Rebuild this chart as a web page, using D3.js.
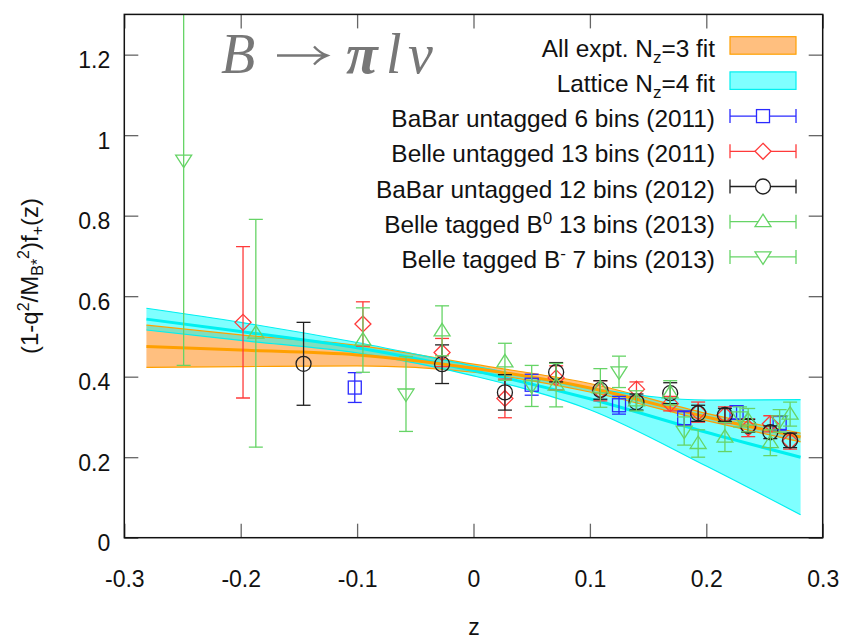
<!DOCTYPE html>
<html><head><meta charset="utf-8">
<script src="https://cdn.jsdelivr.net/npm/d3@7"></script>
<style>
html,body{margin:0;padding:0;background:#fff;}
</style></head>
<body><svg id="c" width="843" height="640" font-family="'Liberation Sans', Arial, Helvetica, sans-serif"></svg>
<script>
// ---- data ----
const xTicks = [-0.3, -0.2, -0.1, 0, 0.1, 0.2, 0.3];
const xTickLabels = ["-0.3", "-0.2", "-0.1", "0", "0.1", "0.2", "0.3"];
const yTicks = [0, 0.2, 0.4, 0.6, 0.8, 1, 1.2];
const yTickLabels = ["0", "0.2", "0.4", "0.6", "0.8", "1", "1.2"];

// fit bands: z grid and lower/central/upper values
const bandZ = [-0.281, -0.2, -0.1, 0, 0.1, 0.2, 0.281];
const exptLow = [0.423, 0.425, 0.427, 0.411, 0.362, 0.291, 0.238];
const exptMid = [0.475, 0.466, 0.454, 0.421, 0.372, 0.300, 0.250];
const exptHigh = [0.528, 0.504, 0.478, 0.431, 0.383, 0.309, 0.260];
const latLow = [0.516, 0.490, 0.459, 0.402, 0.318, 0.178, 0.057];
const latMid = [0.543, 0.512, 0.472, 0.415, 0.345, 0.262, 0.200];
const latHigh = [0.570, 0.535, 0.485, 0.427, 0.372, 0.342, 0.343];

// BaBar untagged 6 bins (2011)
const babar11Z = [-0.102, 0.050, 0.125, 0.181, 0.226, 0.263];
const babar11V = [0.373, 0.380, 0.329, 0.297, 0.311, 0.285];
const babar11E = [0.037, 0.026, 0.022, 0.018, 0.017, 0.018];
// Belle untagged 13 bins (2011)
const belle11Z = [-0.198, -0.095, -0.027, 0.027, 0.071, 0.109, 0.140, 0.169, 0.193, 0.216, 0.236, 0.255, 0.272];
const belle11V = [0.535, 0.531, 0.460, 0.346, 0.397, 0.365, 0.369, 0.333, 0.312, 0.305, 0.273, 0.283, 0.240];
const belle11E = [0.188, 0.055, 0.035, 0.048, 0.030, 0.025, 0.018, 0.018, 0.025, 0.020, 0.022, 0.020, 0.020];
// BaBar untagged 12 bins (2012)
const babar12Z = [-0.146, -0.027, 0.027, 0.071, 0.109, 0.140, 0.169, 0.193, 0.216, 0.236, 0.255, 0.272];
const babar12V = [0.432, 0.431, 0.361, 0.411, 0.367, 0.337, 0.359, 0.309, 0.305, 0.278, 0.262, 0.242];
const babar12E = [0.103, 0.048, 0.044, 0.024, 0.023, 0.020, 0.026, 0.020, 0.016, 0.016, 0.016, 0.018];
// Belle tagged B0 13 bins (2013)
const belleB0Z = [-0.187, -0.095, -0.027, 0.027, 0.071, 0.109, 0.140, 0.169, 0.193, 0.216, 0.236, 0.255, 0.272];
const belleB0V = [0.508, 0.491, 0.514, 0.437, 0.379, 0.372, 0.340, 0.360, 0.234, 0.250, 0.292, 0.236, 0.307];
const belleB0E = [0.283, 0.080, 0.062, 0.046, 0.054, 0.048, 0.025, 0.030, 0.034, 0.036, 0.029, 0.032, 0.030];
// Belle tagged B- 7 bins (2013)
const belleBmZ = [-0.249, -0.058, 0.050, 0.125, 0.181, 0.229, 0.263];
const belleBmV = [0.938, 0.357, 0.377, 0.412, 0.265, 0.300, 0.290];
const belleBmE = [0.510, 0.093, 0.051, 0.039, 0.035, 0.025, 0.028];

// ---- drawing ----
const svg = d3.select("#c");
const L = 124.3, R = 822.7, T = 14.4, B = 537.7;
const x = d3.scaleLinear().domain([-0.3, 0.3]).range([L, R]);
const y = d3.scaleLinear().domain([0, 1.3]).range([B, T]);

svg.append("defs").append("clipPath").attr("id", "clip")
  .append("rect").attr("x", L).attr("y", T).attr("width", R - L).attr("height", B - T);

const plot = svg.append("g").attr("clip-path", "url(#clip)");

function band(lo, hi) {
  return d3.area().curve(d3.curveMonotoneX)
    .x((d, i) => x(bandZ[i])).y0((d, i) => y(lo[i])).y1((d, i) => y(hi[i]))(bandZ);
}
function line(v) {
  return d3.line().curve(d3.curveMonotoneX).x((d, i) => x(bandZ[i])).y((d, i) => y(v[i]))(bandZ);
}
const ORF = "rgba(255,128,0,0.5)", ORL = "#ffa000";
const CYF = "rgba(0,255,255,0.5)", CYL = "#00f0f0";

plot.append("path").attr("d", band(exptLow, exptHigh)).attr("fill", ORF).attr("stroke", "none");
plot.append("path").attr("d", band(latLow, latHigh)).attr("fill", CYF).attr("stroke", "none");
[exptLow, exptHigh].forEach(v => plot.append("path").attr("d", line(v)).attr("fill", "none").attr("stroke", ORL).attr("stroke-width", 1.2));
[latLow, latHigh].forEach(v => plot.append("path").attr("d", line(v)).attr("fill", "none").attr("stroke", CYL).attr("stroke-width", 1.2));
plot.append("path").attr("d", line(latMid)).attr("fill", "none").attr("stroke", CYL).attr("stroke-width", 3);
plot.append("path").attr("d", line(exptMid)).attr("fill", "none").attr("stroke", ORL).attr("stroke-width", 3);

// markers
const markers = {
  square: g => g.append("rect").attr("x", -6.5).attr("y", -6.5).attr("width", 13).attr("height", 13),
  diamond: g => g.append("path").attr("d", "M0,-8L8,0L0,8L-8,0Z"),
  circle: g => g.append("circle").attr("r", 7.5),
  up: g => g.append("path").attr("d", "M0,-7.5L8,5L-8,5Z"),
  down: g => g.append("path").attr("d", "M0,7.5L8,-5L-8,-5Z")
};

const series = [
  {label: "BaBar untagged 6 bins (2011)", z: babar11Z, v: babar11V, e: babar11E, color: "#2a2aff", m: "square"},
  {label: "Belle untagged 13 bins (2011)", z: belle11Z, v: belle11V, e: belle11E, color: "#ff3a3a", m: "diamond"},
  {label: "BaBar untagged 12 bins (2012)", z: babar12Z, v: babar12V, e: babar12E, color: "#202020", m: "circle"},
  {label: "Belle tagged B0 13 bins (2013)", z: belleB0Z, v: belleB0V, e: belleB0E, color: "#66d466", m: "up"},
  {label: "Belle tagged B- 7 bins (2013)", z: belleBmZ, v: belleBmV, e: belleBmE, color: "#66d466", m: "down"}
];

const CAP = 7;
series.forEach(s => {
  const g = plot.append("g").attr("fill", "none").attr("stroke", s.color).attr("stroke-width", 1.3);
  s.z.forEach((zz, i) => {
    const cx = x(zz), lo = y(s.v[i] - s.e[i]), hi = y(s.v[i] + s.e[i]);
    g.append("line").attr("x1", cx).attr("x2", cx).attr("y1", lo).attr("y2", hi);
    g.append("line").attr("x1", cx - CAP).attr("x2", cx + CAP).attr("y1", lo).attr("y2", lo);
    g.append("line").attr("x1", cx - CAP).attr("x2", cx + CAP).attr("y1", hi).attr("y2", hi);
    const mg = g.append("g").attr("transform", `translate(${cx},${y(s.v[i])})`);
    markers[s.m](mg);
  });
});

// axes
const FS = 23;
const axB = svg.append("g").attr("transform", `translate(0,${B})`)
  .call(d3.axisBottom(x).tickValues(xTicks).tickFormat((d, i) => xTickLabels[i]).tickSize(-14).tickPadding(0));
const axT = svg.append("g").attr("transform", `translate(0,${T})`)
  .call(d3.axisTop(x).tickValues(xTicks).tickFormat("").tickSize(-14));
const axL = svg.append("g").attr("transform", `translate(${L},0)`)
  .call(d3.axisLeft(y).tickValues(yTicks).tickFormat((d, i) => yTickLabels[i]).tickSize(-14).tickPadding(14));
const axR = svg.append("g").attr("transform", `translate(${R},0)`)
  .call(d3.axisRight(y).tickValues(yTicks).tickFormat("").tickSize(-14));
[axB, axT, axL, axR].forEach(a => {
  a.select(".domain").remove();
  a.attr("font-family", null);
  a.selectAll(".tick line").attr("stroke", "#666").attr("stroke-width", 1.3);
  a.selectAll("text").attr("font-size", FS).attr("fill", "#111");
});
axB.selectAll("text").attr("y", 49).attr("dy", null);
axL.selectAll("text").attr("dy", "13px");

svg.append("rect").attr("x", L).attr("y", T).attr("width", R - L).attr("height", B - T)
  .attr("fill", "none").attr("stroke", "#111").attr("stroke-width", 1.5);

// axis titles
svg.append("text").attr("x", 474).attr("y", 635).attr("text-anchor", "middle")
  .attr("font-size", FS).attr("fill", "#111").text("z");

const yl = svg.append("text").attr("transform", "translate(38,276) rotate(-90)")
  .attr("text-anchor", "middle").attr("font-size", 24).attr("fill", "#111");
yl.append("tspan").text("(1-q");
yl.append("tspan").attr("font-size", 16).attr("dy", -9).text("2");
yl.append("tspan").attr("dy", 9).text("/M");
yl.append("tspan").attr("font-size", 16).attr("dy", 5).text("B*");
yl.append("tspan").attr("font-size", 16).attr("dy", -14).text("2");
yl.append("tspan").attr("dy", 9).text(")f");
yl.append("tspan").attr("font-size", 16).attr("dy", 5).text("+");
yl.append("tspan").attr("dy", -5).text("(z)");

// title B -> pi l nu
const tg = svg.append("g").attr("fill", "#777");
const SERIF = "'Liberation Serif','Times New Roman',serif";
tg.append("text").attr("x", 221).attr("y", 73).attr("font-family", SERIF).attr("font-size", 56).attr("font-style", "italic").text("B");
// thin TeX-like arrow drawn as a path
tg.append("path").attr("d", "M277,55.5H326M314,46.5Q320,53 327,55.5Q320,58 314,64.5")
  .attr("fill", "none").attr("stroke", "#777").attr("stroke-width", 2.4);
tg.append("text").attr("x", 346).attr("y", 73).attr("font-family", SERIF).attr("font-size", 58).attr("font-style", "italic").attr("font-weight", "bold").text("π");
tg.append("text").attr("x", 386).attr("y", 73).attr("font-family", SERIF).attr("font-size", 56).attr("font-style", "italic").text("l");
tg.append("text").attr("x", 408).attr("y", 73).attr("font-family", SERIF).attr("font-size", 56).attr("font-style", "italic").text("ν");

// legend
const LFS = 24.4;
const LX = 715, SX0 = 730, SX1 = 796, SC = 763;
const leg = svg.append("g").attr("font-size", LFS).attr("fill", "#111");
function rowY(i) { return 56.7 + i * 35.2; }
function legText(i, parts) {
  const t = leg.append("text").attr("x", LX).attr("y", rowY(i)).attr("text-anchor", "end");
  parts.forEach(p => {
    const s = t.append("tspan").text(p[0]);
    if (p[1] === "sub") s.attr("font-size", 17).attr("dy", 6);
    else if (p[1] === "sup") s.attr("font-size", 17).attr("dy", -9);
    else if (p[1] === "back") s.attr("dy", p[2]);
  });
}
legText(0, [["All expt. N"], ["z", "sub"], ["=3 fit", "back", -6]]);
legText(1, [["Lattice N"], ["z", "sub"], ["=4 fit", "back", -6]]);
legText(2, [["BaBar untagged 6 bins (2011)"]]);
legText(3, [["Belle untagged 13 bins (2011)"]]);
legText(4, [["BaBar untagged 12 bins (2012)"]]);
legText(5, [["Belle tagged B"], ["0", "sup"], [" 13 bins (2013)", "back", 9]]);
legText(6, [["Belle tagged B"], ["-", "sup"], [" 7 bins (2013)", "back", 9]]);

leg.append("rect").attr("x", SX0).attr("y", rowY(0) - 20).attr("width", SX1 - SX0).attr("height", 17.5)
  .attr("fill", ORF).attr("stroke", ORL).attr("stroke-width", 1.2);
leg.append("rect").attr("x", SX0).attr("y", rowY(1) - 20).attr("width", SX1 - SX0).attr("height", 17.5)
  .attr("fill", CYF).attr("stroke", CYL).attr("stroke-width", 1.2);
series.forEach((s, k) => {
  const cy = rowY(k + 2) - 11;
  const g = leg.append("g").attr("fill", "none").attr("stroke", s.color).attr("stroke-width", 1.3);
  g.append("line").attr("x1", SX0).attr("x2", SX1).attr("y1", cy).attr("y2", cy);
  g.append("line").attr("x1", SX0).attr("x2", SX0).attr("y1", cy - 7).attr("y2", cy + 7);
  g.append("line").attr("x1", SX1).attr("x2", SX1).attr("y1", cy - 7).attr("y2", cy + 7);
  const mg = g.append("g").attr("transform", `translate(${SC},${cy})`).attr("fill", "#fff");
  markers[s.m](mg);
});
</script></body></html>
